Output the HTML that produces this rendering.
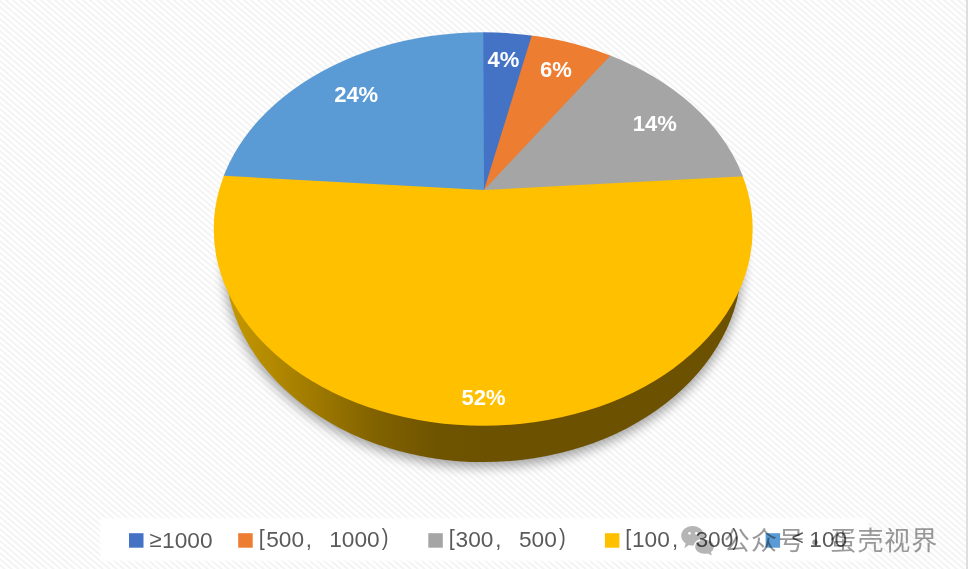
<!DOCTYPE html>
<html><head><meta charset="utf-8"><title>pie</title>
<style>
html,body{margin:0;padding:0;}
body{width:971px;height:569px;overflow:hidden;position:relative;background:#fff;font-family:"Liberation Sans",sans-serif;}
#bg{position:absolute;left:0;top:0;width:966px;height:569px;
 background:repeating-linear-gradient(40.6deg,#ffffff 0px,#ffffff 1.367px,#f2f2f2 2.825px,#f2f2f2 3.189px,#ffffff 4.556px);}
#rline{position:absolute;left:965.5px;top:0;width:2px;height:569px;background:#dedede;}
svg{position:absolute;left:0;top:0;}
.lbl{font-family:"Liberation Sans",sans-serif;font-weight:bold;font-size:22.5px;fill:#fff;}
.lt{font-family:"Liberation Sans",sans-serif;fill:#5a5a5a;}
.wm{font-family:"Liberation Sans","Noto Sans CJK SC",sans-serif;font-size:26px;fill:#9a9a9a;}
</style></head><body>
<div id="bg"></div><div id="rline"></div>
<svg width="971" height="569" viewBox="0 0 971 569">
<defs>
<linearGradient id="side" gradientUnits="userSpaceOnUse" x1="220" y1="0" x2="520" y2="0">
<stop offset="0" stop-color="#c89b00"/><stop offset="0.13" stop-color="#b88e00"/><stop offset="0.31" stop-color="#a07a00"/><stop offset="0.51" stop-color="#826300"/><stop offset="0.72" stop-color="#6f5400"/><stop offset="0.93" stop-color="#6b5100"/><stop offset="1" stop-color="#6b5100"/>
</linearGradient>
<mask id="bm" maskUnits="userSpaceOnUse" x="670" y="515" width="60" height="50"><rect x="670" y="515" width="60" height="50" fill="#fff"/><ellipse cx="704.6" cy="546.8" rx="11.0" ry="8.7" fill="#000"/></mask>
<filter id="lb" x="-2%" y="-10%" width="104%" height="120%"><feGaussianBlur stdDeviation="0.8"/></filter>
<filter id="sh" x="-10%" y="-10%" width="120%" height="125%"><feGaussianBlur stdDeviation="6"/></filter>
<clipPath id="top"><ellipse cx="483.2" cy="229.05" rx="269.5" ry="196.75"/></clipPath>
<mask id="topm" maskUnits="userSpaceOnUse" x="0" y="0" width="971" height="569"><ellipse cx="483.2" cy="229.05" rx="269.5" ry="196.75" fill="#fff"/></mask>
<clipPath id="ycl"><polygon points="-296.9,144.9 484.0,187.5 1259.5,146.7 1500.0,800.0 -500.0,800.0"/></clipPath>
<clipPath id="low"><rect x="0" y="270" width="971" height="300"/></clipPath>
</defs>
<rect x="100.2" y="518.3" width="767.8" height="42.6" fill="#fff" filter="url(#lb)"/>
<ellipse cx="483.5" cy="264.7" rx="259.5" ry="202.4" fill="#000" opacity="0.36" filter="url(#sh)"/>
<ellipse cx="483.5" cy="260.7" rx="258.5" ry="201.4" fill="url(#side)" clip-path="url(#low)"/>
<ellipse cx="483.2" cy="229.05" rx="269.5" ry="196.75" fill="#FFC000" clip-path="url(#ycl)"/>
<g mask="url(#topm)">
<polygon points="484.0,190.0 -296.9,147.4 -400.0,-400.0 481.9,-284.0 554.5,-278.5" fill="#5B9BD5"/>
<polygon points="484.0,190.0 744.7,-242.8 1400.0,-300.0 1259.5,149.2" fill="#A5A5A5"/>
<polygon points="484.0,190.0 554.5,-278.5 862.3,-212.6" fill="#ED7D31"/>
<polygon points="484.0,190.0 481.9,-284.0 627.1,-272.9" fill="#4472C4"/>
</g>
<text class="lbl" transform="translate(487.47 67.0) scale(0.978 1)">4%</text>
<text class="lbl" transform="translate(540.09 77.1) scale(0.978 1)">6%</text>
<text class="lbl" transform="translate(632.71 130.5) scale(0.978 1)">14%</text>
<text class="lbl" transform="translate(334.14 102.3) scale(0.978 1)">24%</text>
<text class="lbl" transform="translate(461.62 404.8) scale(0.978 1)">52%</text>
<rect x="129.0" y="533.2" width="14.5" height="14.5" fill="#4472C4"/>
<rect x="238.2" y="533.2" width="14.5" height="14.5" fill="#ED7D31"/>
<rect x="428.3" y="533.2" width="14.5" height="14.5" fill="#A5A5A5"/>
<rect x="604.9" y="533.2" width="14.5" height="14.5" fill="#FFC000"/>
<rect x="765.6" y="533.2" width="14.5" height="14.5" fill="#5B9BD5"/>
<text class="lt" font-size="22.2" x="149.20" y="547.4">≥</text>
<text class="lt" font-size="22.8" transform="translate(162.07 547.5) scale(0.996 1)">1000</text>
<text class="lt" font-size="21.5" x="258.67" y="545.1">[</text>
<text class="lt" font-size="22.8" transform="translate(266.19 546.6) scale(0.996 1)">500</text>
<text class="lt" font-size="22.0" x="305.72" y="546.9">,</text>
<text class="lt" font-size="22.8" transform="translate(329.17 546.6) scale(0.996 1)">1000</text>
<text class="lt" font-size="23.9" transform="translate(381.78 545.2) scale(0.85 1)">)</text>
<text class="lt" font-size="21.5" x="448.67" y="545.1">[</text>
<text class="lt" font-size="22.8" transform="translate(455.54 546.6) scale(0.996 1)">300</text>
<text class="lt" font-size="22.0" x="495.22" y="546.9">,</text>
<text class="lt" font-size="22.8" transform="translate(518.99 546.6) scale(0.996 1)">500</text>
<text class="lt" font-size="23.9" transform="translate(559.08 545.2) scale(0.85 1)">)</text>
<text class="lt" font-size="21.5" x="625.37" y="545.1">[</text>
<text class="lt" font-size="22.8" transform="translate(631.97 546.6) scale(0.996 1)">100</text>
<text class="lt" font-size="22.0" x="672.12" y="546.9">,</text>
<text class="lt" font-size="22.8" transform="translate(695.44 546.6) scale(0.996 1)">300</text>
<text class="lt" font-size="23.9" transform="translate(732.18 545.2) scale(0.85 1)">)</text>
<text class="lt" font-size="22.0" transform="translate(791.56 544.9) scale(0.96 1)">&lt;</text>
<text class="lt" font-size="22.8" transform="translate(809.37 546.6) scale(0.996 1)">100</text>
<g style="mix-blend-mode:multiply">
<g fill="#b5b5b5">
<path mask="url(#bm)" d="M692.6 526.1 C686.3 526.1 681.2 530.4 681.2 535.8 C681.2 538.9 682.9 541.6 685.6 543.4 L684.4 548.2 L689 544.9 C690.1 545.3 691.3 545.5 692.6 545.5 C698.9 545.5 704 541.2 704 535.8 C704 530.4 698.9 526.1 692.6 526.1 Z"/>
<path d="M713.9 546.8 C713.9 542.9 709.7 539.8 704.6 539.8 C699.4 539.8 695.2 542.9 695.2 546.8 C695.2 550.7 699.4 553.8 704.6 553.8 C705.7 553.8 706.8 553.7 707.8 553.4 L711.9 555.6 L710.9 552.1 C712.7 550.8 713.9 548.9 713.9 546.8 Z"/>
</g>
<circle cx="689.5" cy="533.3" r="1.35" fill="#fff"/><circle cx="696.4" cy="533.3" r="1.35" fill="#fff"/>
<g fill="#9a9a9a">
<text class="wm" x="723.8" y="549.8">公</text>
<text class="wm" x="751.0" y="549.8">众</text>
<text class="wm" x="778.3" y="549.8">号</text>
<text class="wm" x="815.0" y="552.3" text-anchor="middle" style="font-family:'Noto Sans CJK SC',sans-serif;">·</text>
<text class="wm" x="829.9" y="549.8">蛋</text>
<text class="wm" x="857.4" y="549.8">壳</text>
<text class="wm" x="884.3" y="549.8">视</text>
<text class="wm" x="911.2" y="549.8">界</text>
</g>
</g>
</svg>
</body></html>
